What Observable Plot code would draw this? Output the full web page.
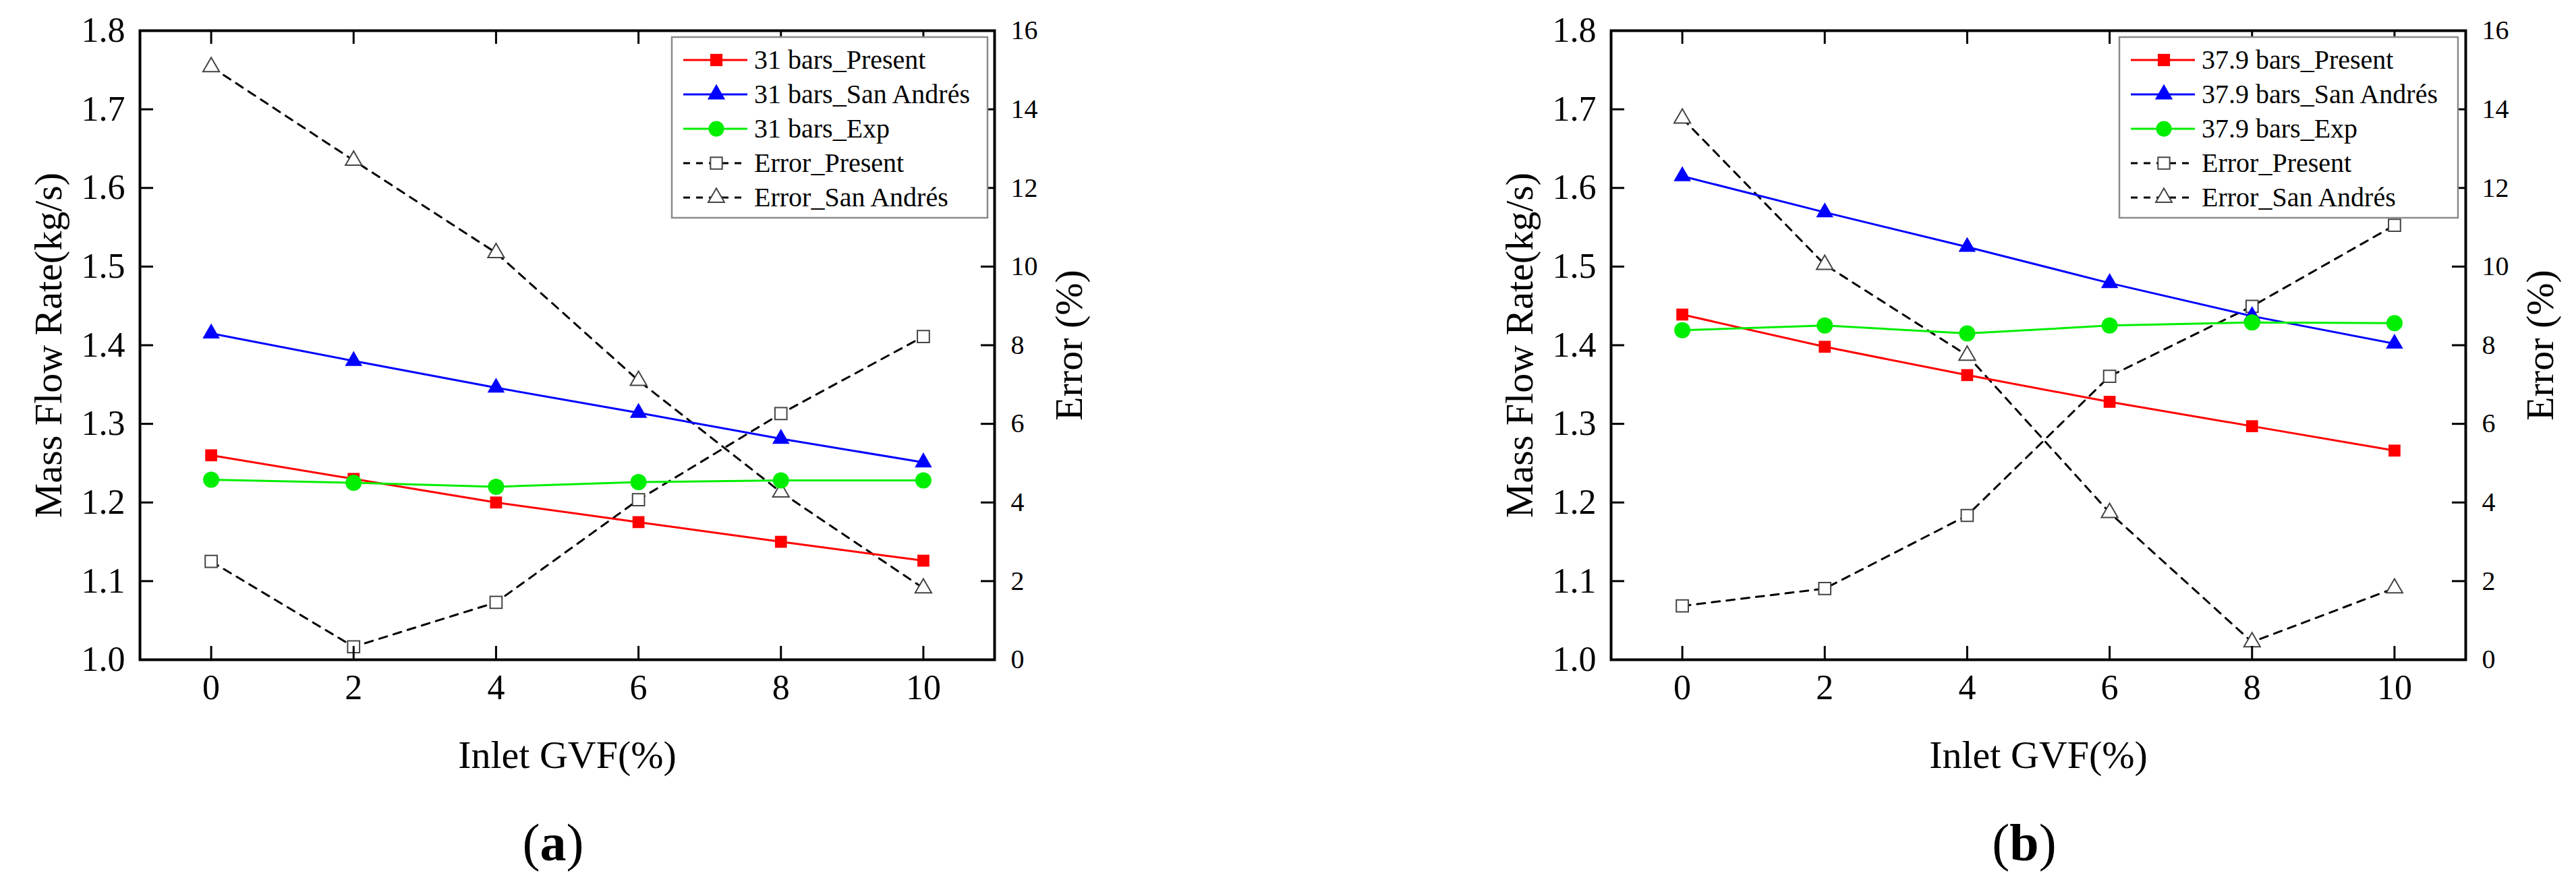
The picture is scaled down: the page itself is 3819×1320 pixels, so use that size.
<!DOCTYPE html>
<html>
<head>
<meta charset="utf-8">
<script src="https://cdn.jsdelivr.net/npm/d3@7"></script>
<script src="https://cdn.jsdelivr.net/npm/@observablehq/plot@0.6"></script>
<style>
  html, body { margin: 0; padding: 0; background: #fff; }
  body { width: 3819px; height: 1320px; position: relative; overflow: hidden;
         font-family: 'Liberation Serif', 'Times New Roman', serif; }
  .panel { position: absolute; top: 0; width: 1638px; height: 1320px; }
  .layer { position: absolute; left: 0; top: 0; }
  .cap { position: absolute; left: 670px; width: 300px; top: 1210px; height: 80px;
         line-height: 80px; text-align: center; font-size: 78px; color: #000;
         font-family: 'Liberation Serif', 'Times New Roman', serif; }
  .cap b { font-weight: bold; }
</style>
</head>
<body>
<div id="pa" class="panel" style="left:0px"></div>
<div id="pb" class="panel" style="left:2181px"></div>
<script>
// ---------- data ----------
const gvf = [0, 2, 4, 6, 8, 10];

// panel (a) 31 bars
const presentA   = [1.260, 1.230, 1.200, 1.175, 1.150, 1.126];
const sanAndresA = [1.415, 1.380, 1.346, 1.314, 1.281, 1.251];
const expA       = [1.229, 1.225, 1.220, 1.226, 1.228, 1.228];
const errPresentA   = [2.50, 0.33, 1.46, 4.07, 6.26, 8.22];
const errSanAndresA = [15.08, 12.70, 10.35, 7.10, 4.26, 1.82];

// panel (b) 37.9 bars
const presentB   = [1.439, 1.398, 1.362, 1.328, 1.297, 1.266];
const sanAndresB = [1.615, 1.569, 1.525, 1.479, 1.437, 1.402];
const expB       = [1.419, 1.425, 1.415, 1.425, 1.429, 1.428];
const errPresentB   = [1.37, 1.81, 3.67, 7.21, 8.99, 11.05];
const errSanAndresB = [13.77, 10.05, 7.74, 3.74, 0.45, 1.82];

const xTicks = [0, 2, 4, 6, 8, 10];
const flowTicks = [1.0, 1.1, 1.2, 1.3, 1.4, 1.5, 1.6, 1.7, 1.8];
const errTicks = [0, 2, 4, 6, 8, 10, 12, 14, 16];

const labelsA = ["31 bars_Present", "31 bars_San Andrés", "31 bars_Exp", "Error_Present", "Error_San Andrés"];
const labelsB = ["37.9 bars_Present", "37.9 bars_San Andrés", "37.9 bars_Exp", "Error_Present", "Error_San Andrés"];

const yTitle = "Mass Flow Rate(kg/s)";
const y2Title = "Error (%)";
const xTitle = "Inlet GVF(%)";

// ---------- layout ----------
const FONT = "'Liberation Serif', 'Times New Roman', serif";
const W = 1638, H = 1170;
const ML = 207, MT = 45, FR = 1474, FB = 978;
const MR = W - FR, MB = H - FB;
const PW = FR - ML, PH = FB - MT;
const TICK = 20;

const RED = "#ff0000", BLUE = "#0000ff", GREEN = "#00ee00";

function rows(vals) { return gvf.map((x, i) => ({x, v: vals[i]})); }

function drawPanel(el, d, labels, legendBox, capLetter) {
  // error layer (right axis)
  const errPlot = Plot.plot({
    width: W, height: H,
    marginTop: MT, marginBottom: MB, marginLeft: ML, marginRight: MR,
    style: {fontFamily: FONT, background: "white", maxWidth: "none", overflow: "visible"},
    x: {domain: [-1, 11], axis: null},
    y: {domain: [0, 16]},
    marks: [
      Plot.axisY(errTicks, {anchor: "right", tickSize: 0, tickPadding: 24, fontSize: 40,
                            label: null, tickFormat: t => String(t)}),
      Plot.ruleY(errTicks, {stroke: "black", strokeWidth: 3, insetLeft: PW - TICK}),
      Plot.text([y2Title], {text: t => t, frameAnchor: "right", dx: 111, rotate: -90,
                            textAnchor: "middle", lineAnchor: "middle",
                            fontSize: 58, fontFamily: FONT, fill: "black"}),
      Plot.line(rows(d.errP), {x: "x", y: "v", stroke: "black", strokeWidth: 3, strokeDasharray: "12,10"}),
      Plot.line(rows(d.errS), {x: "x", y: "v", stroke: "black", strokeWidth: 3, strokeDasharray: "12,10"}),
      Plot.dot(rows(d.errP), {x: "x", y: "v", symbol: "square", r: 10, fill: "white", stroke: "#444", strokeWidth: 2}),
      Plot.dot(rows(d.errS), {x: "x", y: "v", symbol: "triangle", r: 9, fill: "white", stroke: "#444", strokeWidth: 2})
    ]
  });
  errPlot.classList.add("layer");
  el.appendChild(errPlot);

  // mass flow layer (left axis)
  const flowPlot = Plot.plot({
    width: W, height: H,
    marginTop: MT, marginBottom: MB, marginLeft: ML, marginRight: MR,
    style: {fontFamily: FONT, background: "transparent", maxWidth: "none", overflow: "visible"},
    x: {domain: [-1, 11]},
    y: {domain: [1.0, 1.8]},
    marks: [
      Plot.axisY(flowTicks, {anchor: "left", tickSize: 0, tickPadding: 22, fontSize: 52,
                             label: null, tickFormat: d3.format(".1f")}),
      Plot.axisX(xTicks, {anchor: "bottom", tickSize: 0, tickPadding: 22, fontSize: 52,
                          label: null, tickFormat: t => String(t)}),
      Plot.ruleY(flowTicks, {stroke: "black", strokeWidth: 3, insetRight: PW - TICK}),
      Plot.ruleX(xTicks, {stroke: "black", strokeWidth: 3, insetTop: PH - TICK}),
      Plot.ruleX(xTicks, {stroke: "black", strokeWidth: 3, insetBottom: PH - TICK}),
      Plot.text([yTitle], {text: t => t, frameAnchor: "left", dx: -135, rotate: -90,
                           textAnchor: "middle", lineAnchor: "middle",
                           fontSize: 58, fontFamily: FONT, fill: "black"}),
      Plot.text([xTitle], {text: t => t, frameAnchor: "bottom", dy: 142,
                           textAnchor: "middle", lineAnchor: "middle",
                           fontSize: 58, fontFamily: FONT, fill: "black"}),
      Plot.line(rows(d.present), {x: "x", y: "v", stroke: RED, strokeWidth: 3}),
      Plot.line(rows(d.san), {x: "x", y: "v", stroke: BLUE, strokeWidth: 3}),
      Plot.line(rows(d.exp), {x: "x", y: "v", stroke: GREEN, strokeWidth: 3}),
      Plot.dot(rows(d.present), {x: "x", y: "v", symbol: "square", r: 10, fill: RED}),
      Plot.dot(rows(d.san), {x: "x", y: "v", symbol: "triangle", r: 9.5, fill: BLUE}),
      Plot.dot(rows(d.exp), {x: "x", y: "v", symbol: "circle", r: 12, fill: GREEN}),
      Plot.frame({stroke: "black", strokeWidth: 4})
    ]
  });
  flowPlot.classList.add("layer");
  el.appendChild(flowPlot);

  // legend
  const styles = [
    {stroke: RED, dash: null, sym: d3.symbolSquare, size: 330, fill: RED, mstroke: "none"},
    {stroke: BLUE, dash: null, sym: d3.symbolTriangle, size: 300, fill: BLUE, mstroke: "none"},
    {stroke: GREEN, dash: null, sym: d3.symbolCircle, size: 420, fill: GREEN, mstroke: "none"},
    {stroke: "black", dash: "10,9", sym: d3.symbolSquare, size: 300, fill: "white", mstroke: "#444"},
    {stroke: "black", dash: "10,9", sym: d3.symbolTriangle, size: 250, fill: "white", mstroke: "#444"}
  ];
  const svg = d3.select(el).append("svg")
    .attr("class", "layer").attr("width", W).attr("height", H)
    .style("font-family", FONT);
  svg.append("rect")
    .attr("x", legendBox.x).attr("y", 55).attr("width", legendBox.w).attr("height", 268)
    .attr("fill", "white").attr("stroke", "#8a8a8a").attr("stroke-width", 2.5);
  labels.forEach((lab, i) => {
    const cy = 89 + i * 51;
    const s = styles[i];
    svg.append("line")
      .attr("x1", legendBox.x + 17).attr("x2", legendBox.x + 112)
      .attr("y1", cy).attr("y2", cy)
      .attr("stroke", s.stroke).attr("stroke-width", 3)
      .attr("stroke-dasharray", s.dash);
    svg.append("path")
      .attr("d", d3.symbol(s.sym, s.size)())
      .attr("transform", `translate(${legendBox.x + 66},${cy})`)
      .attr("fill", s.fill).attr("stroke", s.mstroke).attr("stroke-width", 2);
    svg.append("text")
      .attr("x", legendBox.x + 122).attr("y", cy + 13)
      .attr("font-size", 40).attr("fill", "black")
      .text(lab);
  });

  // caption
  const cap = document.createElement("div");
  cap.className = "cap";
  cap.innerHTML = "(<b>" + capLetter + "</b>)";
  el.appendChild(cap);
}

drawPanel(document.getElementById("pa"),
  {present: presentA, san: sanAndresA, exp: expA, errP: errPresentA, errS: errSanAndresA},
  labelsA, {x: 996, w: 468}, "a");
drawPanel(document.getElementById("pb"),
  {present: presentB, san: sanAndresB, exp: expB, errP: errPresentB, errS: errSanAndresB},
  labelsB, {x: 961, w: 502}, "b");
</script>
</body>
</html>
